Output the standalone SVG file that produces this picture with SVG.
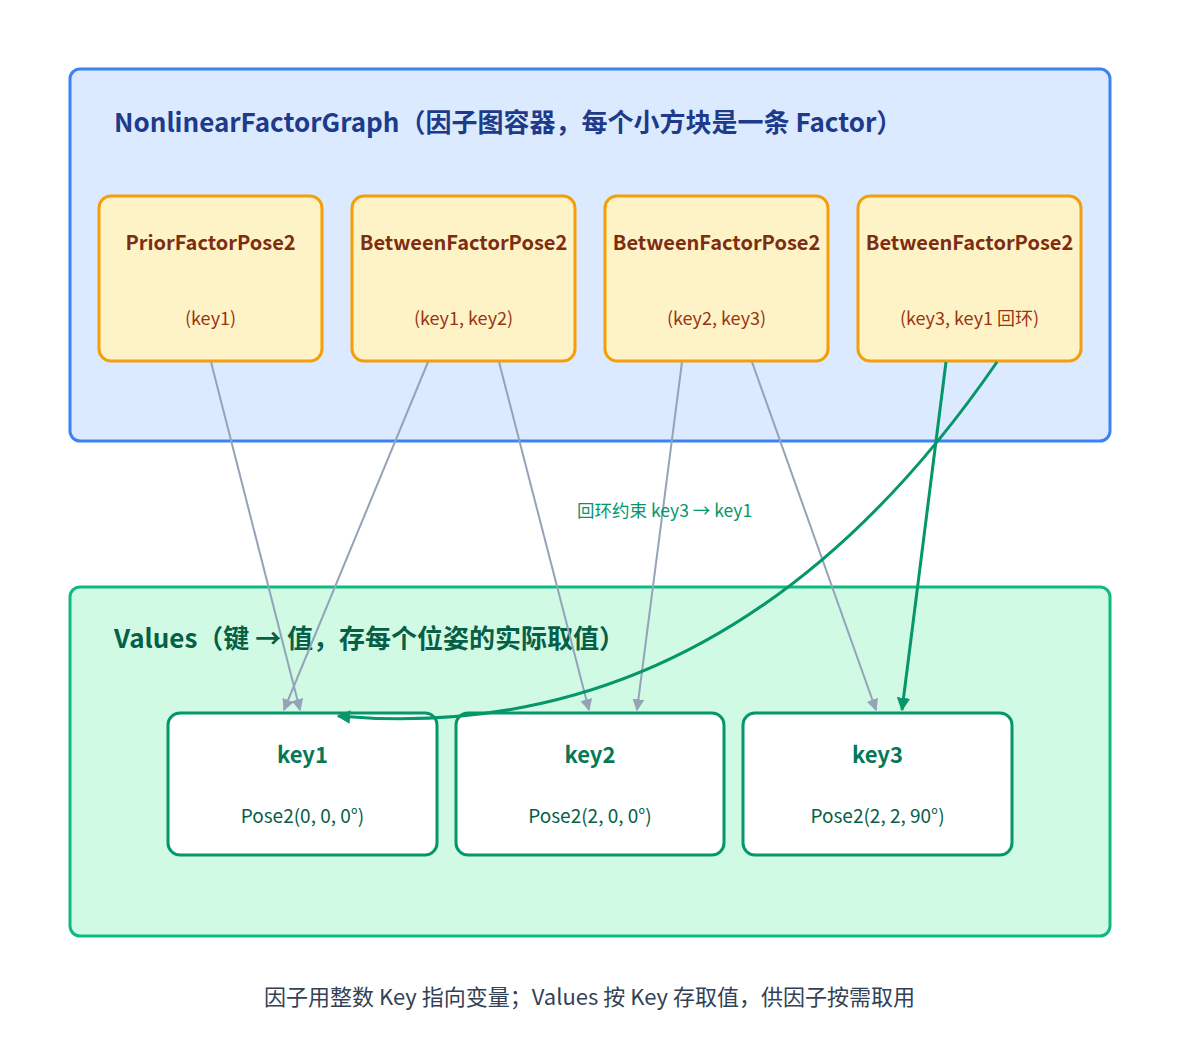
<svg xmlns="http://www.w3.org/2000/svg" width="1179" height="1064" viewBox="0 0 1179 1064">
<defs>
<style>
text{font-family:"Noto Sans CJK SC","Noto Sans",sans-serif;}
.fg{fill:#dbeafe;stroke:#3b82f6;stroke-width:3;}
.vals{fill:#d1fae5;stroke:#10b981;stroke-width:3;}
.fac rect{fill:#fef3c7;stroke:#f59e0b;stroke-width:3;}
.fac .t{font-size:20px;font-weight:bold;fill:#7c2d12;text-anchor:middle;}
.fac .s{font-size:18px;fill:#9a3412;text-anchor:middle;}
.key rect{fill:#ffffff;stroke:#059669;stroke-width:3;}
.key .t{font-size:22px;font-weight:bold;fill:#047857;text-anchor:middle;}
.key .s{font-size:19px;fill:#065f46;text-anchor:middle;}
.e{fill:none;stroke:#94a3b8;stroke-width:2;}
.eg{fill:none;stroke:#059669;stroke-width:3;}
</style>
<marker id="ag" viewBox="0 0 10 10" refX="9" refY="5" markerWidth="6" markerHeight="6" markerUnits="strokeWidth" orient="auto"><path d="M0,0L10,5L0,10z" fill="#94a3b8"/></marker>
<marker id="agr" viewBox="0 0 10 10" refX="9" refY="5" markerWidth="4.5" markerHeight="4.5" markerUnits="strokeWidth" orient="auto"><path d="M0,0L10,5L0,10z" fill="#059669"/></marker>
</defs>
<rect width="1179" height="1064" fill="#ffffff"/>
<g id="factor-graph">
<rect class="fg" x="70" y="69" width="1040" height="372" rx="10"/>
<text x="114" y="132" font-size="26" font-weight="bold" fill="#1e3a8a">NonlinearFactorGraph（因子图容器，每个小方块是一条 Factor）</text>
</g>
<g id="values">
<rect class="vals" x="70" y="587" width="1040" height="349" rx="10"/>
<text x="114" y="648" font-size="26" font-weight="bold" fill="#065f46">Values（键 → 值，存每个位姿的实际取值）</text>
</g>
<g id="f1" class="fac"><rect x="99" y="196" width="223" height="165" rx="12"/><text class="t" x="210.5" y="250">PriorFactorPose2</text><text class="s" x="210.5" y="325">(key1)</text></g>
<g id="f2" class="fac"><rect x="352" y="196" width="223" height="165" rx="12"/><text class="t" x="463.5" y="250">BetweenFactorPose2</text><text class="s" x="463.5" y="325">(key1, key2)</text></g>
<g id="f3" class="fac"><rect x="605" y="196" width="223" height="165" rx="12"/><text class="t" x="716.5" y="250">BetweenFactorPose2</text><text class="s" x="716.5" y="325">(key2, key3)</text></g>
<g id="f4" class="fac"><rect x="858" y="196" width="223" height="165" rx="12"/><text class="t" x="969.5" y="250">BetweenFactorPose2</text><text class="s" x="969.5" y="325">(key3, key1 回环)</text></g>
<g id="k1" class="key"><rect x="168" y="713" width="269" height="142" rx="12"/><text class="t" x="302.5" y="763">key1</text><text class="s" x="302.5" y="823">Pose2(0, 0, 0°)</text></g>
<g id="k2" class="key"><rect x="456" y="713" width="268" height="142" rx="12"/><text class="t" x="590" y="763">key2</text><text class="s" x="590" y="823">Pose2(2, 0, 0°)</text></g>
<g id="k3" class="key"><rect x="743" y="713" width="269" height="142" rx="12"/><text class="t" x="877.5" y="763">key3</text><text class="s" x="877.5" y="823">Pose2(2, 2, 90°)</text></g>
<g id="connectors">
<line class="e" x1="211" y1="362" x2="300" y2="710" marker-end="url(#ag)"/>
<line class="e" x1="428" y1="362" x2="284" y2="710" marker-end="url(#ag)"/>
<line class="e" x1="499" y1="362" x2="589" y2="710" marker-end="url(#ag)"/>
<line class="e" x1="682" y1="362" x2="637" y2="710" marker-end="url(#ag)"/>
<line class="e" x1="752" y1="362" x2="876" y2="710" marker-end="url(#ag)"/>
<line class="eg" x1="946" y1="362" x2="902" y2="710" marker-end="url(#agr)"/>
<path class="eg" d="M997,362 Q730,750 338,716" marker-end="url(#agr)"/>
<text x="577" y="517" font-size="17.5" fill="#059669">回环约束 key3 → key1</text>
</g>
<text x="589.5" y="1005" font-size="22" fill="#334155" text-anchor="middle">因子用整数 Key 指向变量；Values 按 Key 存取值，供因子按需取用</text>
</svg>
